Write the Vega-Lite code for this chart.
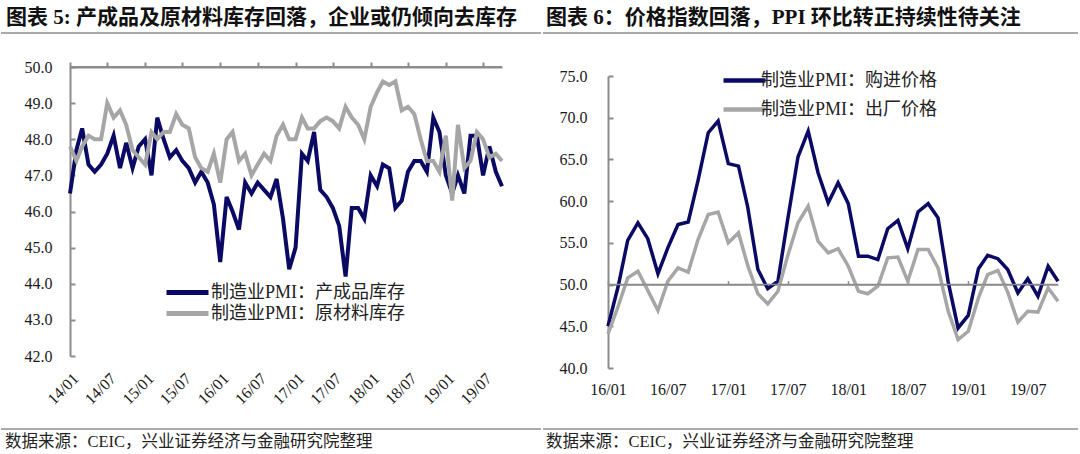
{
  "$schema": "https://vega.github.io/schema/vega-lite/v6.json",
  "padding": {"left": 0, "top": 7, "right": 0, "bottom": 0},
  "background": "white",
  "config": {
    "view": {"stroke": null},
    "axis": {"labelFont": "Liberation Serif", "labelColor": "#1a1a1a", "domainColor": "#8c8c8c", "tickColor": "#8c8c8c", "grid": false}
  },
  "datasets": {
    "inv": [
      {"d":"2014-01-01","制造业PMI：产成品库存":46.5,"制造业PMI：原材料库存":47.8},
      {"d":"2014-02-01","制造业PMI：产成品库存":47.7,"制造业PMI：原材料库存":47.4},
      {"d":"2014-03-01","制造业PMI：产成品库存":48.3,"制造业PMI：原材料库存":47.8},
      {"d":"2014-04-01","制造业PMI：产成品库存":47.3,"制造业PMI：原材料库存":48.1},
      {"d":"2014-05-01","制造业PMI：产成品库存":47.1,"制造业PMI：原材料库存":48.0},
      {"d":"2014-06-01","制造业PMI：产成品库存":47.3,"制造业PMI：原材料库存":48.0},
      {"d":"2014-07-01","制造业PMI：产成品库存":47.6,"制造业PMI：原材料库存":49.0},
      {"d":"2014-08-01","制造业PMI：产成品库存":48.1,"制造业PMI：原材料库存":48.6},
      {"d":"2014-09-01","制造业PMI：产成品库存":47.2,"制造业PMI：原材料库存":48.8},
      {"d":"2014-10-01","制造业PMI：产成品库存":47.9,"制造业PMI：原材料库存":48.4},
      {"d":"2014-11-01","制造业PMI：产成品库存":47.2,"制造业PMI：原材料库存":47.7},
      {"d":"2014-12-01","制造业PMI：产成品库存":47.8,"制造业PMI：原材料库存":47.5},
      {"d":"2015-01-01","制造业PMI：产成品库存":48.0,"制造业PMI：原材料库存":47.3},
      {"d":"2015-02-01","制造业PMI：产成品库存":47.0,"制造业PMI：原材料库存":48.2},
      {"d":"2015-03-01","制造业PMI：产成品库存":48.6,"制造业PMI：原材料库存":48.0},
      {"d":"2015-04-01","制造业PMI：产成品库存":48.0,"制造业PMI：原材料库存":48.2},
      {"d":"2015-05-01","制造业PMI：产成品库存":47.5,"制造业PMI：原材料库存":48.2},
      {"d":"2015-06-01","制造业PMI：产成品库存":47.7,"制造业PMI：原材料库存":48.7},
      {"d":"2015-07-01","制造业PMI：产成品库存":47.4,"制造业PMI：原材料库存":48.4},
      {"d":"2015-08-01","制造业PMI：产成品库存":47.2,"制造业PMI：原材料库存":48.3},
      {"d":"2015-09-01","制造业PMI：产成品库存":46.8,"制造业PMI：原材料库存":47.5},
      {"d":"2015-10-01","制造业PMI：产成品库存":47.1,"制造业PMI：原材料库存":47.2},
      {"d":"2015-11-01","制造业PMI：产成品库存":46.8,"制造业PMI：原材料库存":47.1},
      {"d":"2015-12-01","制造业PMI：产成品库存":46.2,"制造业PMI：原材料库存":47.6},
      {"d":"2016-01-01","制造业PMI：产成品库存":44.6,"制造业PMI：原材料库存":46.8},
      {"d":"2016-02-01","制造业PMI：产成品库存":46.4,"制造业PMI：原材料库存":48.0},
      {"d":"2016-03-01","制造业PMI：产成品库存":46.0,"制造业PMI：原材料库存":48.2},
      {"d":"2016-04-01","制造业PMI：产成品库存":45.5,"制造业PMI：原材料库存":47.4},
      {"d":"2016-05-01","制造业PMI：产成品库存":46.8,"制造业PMI：原材料库存":47.6},
      {"d":"2016-06-01","制造业PMI：产成品库存":46.5,"制造业PMI：原材料库存":47.0},
      {"d":"2016-07-01","制造业PMI：产成品库存":46.8,"制造业PMI：原材料库存":47.3},
      {"d":"2016-08-01","制造业PMI：产成品库存":46.6,"制造业PMI：原材料库存":47.6},
      {"d":"2016-09-01","制造业PMI：产成品库存":46.4,"制造业PMI：原材料库存":47.4},
      {"d":"2016-10-01","制造业PMI：产成品库存":46.9,"制造业PMI：原材料库存":48.1},
      {"d":"2016-11-01","制造业PMI：产成品库存":45.8,"制造业PMI：原材料库存":48.4},
      {"d":"2016-12-01","制造业PMI：产成品库存":44.4,"制造业PMI：原材料库存":48.0},
      {"d":"2017-01-01","制造业PMI：产成品库存":45.0,"制造业PMI：原材料库存":48.0},
      {"d":"2017-02-01","制造业PMI：产成品库存":47.6,"制造业PMI：原材料库存":48.6},
      {"d":"2017-03-01","制造业PMI：产成品库存":47.4,"制造业PMI：原材料库存":48.3},
      {"d":"2017-04-01","制造业PMI：产成品库存":48.2,"制造业PMI：原材料库存":48.3},
      {"d":"2017-05-01","制造业PMI：产成品库存":46.6,"制造业PMI：原材料库存":48.5},
      {"d":"2017-06-01","制造业PMI：产成品库存":46.4,"制造业PMI：原材料库存":48.6},
      {"d":"2017-07-01","制造业PMI：产成品库存":46.1,"制造业PMI：原材料库存":48.5},
      {"d":"2017-08-01","制造业PMI：产成品库存":45.6,"制造业PMI：原材料库存":48.3},
      {"d":"2017-09-01","制造业PMI：产成品库存":44.2,"制造业PMI：原材料库存":48.9},
      {"d":"2017-10-01","制造业PMI：产成品库存":46.1,"制造业PMI：原材料库存":48.6},
      {"d":"2017-11-01","制造业PMI：产成品库存":46.1,"制造业PMI：原材料库存":48.4},
      {"d":"2017-12-01","制造业PMI：产成品库存":45.8,"制造业PMI：原材料库存":48.0},
      {"d":"2018-01-01","制造业PMI：产成品库存":47.0,"制造业PMI：原材料库存":48.9},
      {"d":"2018-02-01","制造业PMI：产成品库存":46.7,"制造业PMI：原材料库存":49.3},
      {"d":"2018-03-01","制造业PMI：产成品库存":47.3,"制造业PMI：原材料库存":49.6},
      {"d":"2018-04-01","制造业PMI：产成品库存":47.2,"制造业PMI：原材料库存":49.5},
      {"d":"2018-05-01","制造业PMI：产成品库存":46.1,"制造业PMI：原材料库存":49.6},
      {"d":"2018-06-01","制造业PMI：产成品库存":46.3,"制造业PMI：原材料库存":48.8},
      {"d":"2018-07-01","制造业PMI：产成品库存":47.1,"制造业PMI：原材料库存":48.9},
      {"d":"2018-08-01","制造业PMI：产成品库存":47.4,"制造业PMI：原材料库存":48.7},
      {"d":"2018-09-01","制造业PMI：产成品库存":47.4,"制造业PMI：原材料库存":48.0},
      {"d":"2018-10-01","制造业PMI：产成品库存":47.1,"制造业PMI：原材料库存":47.4},
      {"d":"2018-11-01","制造业PMI：产成品库存":48.6,"制造业PMI：原材料库存":47.4},
      {"d":"2018-12-01","制造业PMI：产成品库存":48.2,"制造业PMI：原材料库存":47.1},
      {"d":"2019-01-01","制造业PMI：产成品库存":47.0,"制造业PMI：原材料库存":48.1},
      {"d":"2019-02-01","制造业PMI：产成品库存":46.5,"制造业PMI：原材料库存":46.3},
      {"d":"2019-03-01","制造业PMI：产成品库存":47.0,"制造业PMI：原材料库存":48.4},
      {"d":"2019-04-01","制造业PMI：产成品库存":46.5,"制造业PMI：原材料库存":47.2},
      {"d":"2019-05-01","制造业PMI：产成品库存":48.1,"制造业PMI：原材料库存":47.4},
      {"d":"2019-06-01","制造业PMI：产成品库存":48.1,"制造业PMI：原材料库存":48.2},
      {"d":"2019-07-01","制造业PMI：产成品库存":47.0,"制造业PMI：原材料库存":48.0},
      {"d":"2019-08-01","制造业PMI：产成品库存":47.8,"制造业PMI：原材料库存":47.5},
      {"d":"2019-09-01","制造业PMI：产成品库存":47.1,"制造业PMI：原材料库存":47.6},
      {"d":"2019-10-01","制造业PMI：产成品库存":46.7,"制造业PMI：原材料库存":47.4}
    ],
    "price": [
      {"d":"2016-01-01","制造业PMI：购进价格":45.0,"制造业PMI：出厂价格":44.1},
      {"d":"2016-02-01","制造业PMI：购进价格":49.8,"制造业PMI：出厂价格":47.4},
      {"d":"2016-03-01","制造业PMI：购进价格":55.3,"制造业PMI：出厂价格":50.8},
      {"d":"2016-04-01","制造业PMI：购进价格":57.4,"制造业PMI：出厂价格":51.6},
      {"d":"2016-05-01","制造业PMI：购进价格":55.5,"制造业PMI：出厂价格":49.3},
      {"d":"2016-06-01","制造业PMI：购进价格":51.3,"制造业PMI：出厂价格":46.9},
      {"d":"2016-07-01","制造业PMI：购进价格":54.4,"制造业PMI：出厂价格":50.4},
      {"d":"2016-08-01","制造业PMI：购进价格":57.2,"制造业PMI：出厂价格":52.0},
      {"d":"2016-09-01","制造业PMI：购进价格":57.5,"制造业PMI：出厂价格":51.5},
      {"d":"2016-10-01","制造业PMI：购进价格":62.5,"制造业PMI：出厂价格":55.4},
      {"d":"2016-11-01","制造业PMI：购进价格":68.2,"制造业PMI：出厂价格":58.4},
      {"d":"2016-12-01","制造业PMI：购进价格":69.6,"制造业PMI：出厂价格":58.7},
      {"d":"2017-01-01","制造业PMI：购进价格":64.5,"制造业PMI：出厂价格":55.0},
      {"d":"2017-02-01","制造业PMI：购进价格":64.2,"制造业PMI：出厂价格":56.2},
      {"d":"2017-03-01","制造业PMI：购进价格":59.3,"制造业PMI：出厂价格":52.3},
      {"d":"2017-04-01","制造业PMI：购进价格":51.8,"制造业PMI：出厂价格":48.9},
      {"d":"2017-05-01","制造业PMI：购进价格":49.5,"制造业PMI：出厂价格":47.7},
      {"d":"2017-06-01","制造业PMI：购进价格":50.4,"制造业PMI：出厂价格":49.2},
      {"d":"2017-07-01","制造业PMI：购进价格":57.9,"制造业PMI：出厂价格":53.5},
      {"d":"2017-08-01","制造业PMI：购进价格":65.3,"制造业PMI：出厂价格":57.4},
      {"d":"2017-09-01","制造业PMI：购进价格":68.4,"制造业PMI：出厂价格":59.4},
      {"d":"2017-10-01","制造业PMI：购进价格":63.4,"制造业PMI：出厂价格":55.2},
      {"d":"2017-11-01","制造业PMI：购进价格":59.8,"制造业PMI：出厂价格":53.8},
      {"d":"2017-12-01","制造业PMI：购进价格":62.2,"制造业PMI：出厂价格":54.3},
      {"d":"2018-01-01","制造业PMI：购进价格":59.7,"制造业PMI：出厂价格":52.2},
      {"d":"2018-02-01","制造业PMI：购进价格":53.4,"制造业PMI：出厂价格":49.2},
      {"d":"2018-03-01","制造业PMI：购进价格":53.4,"制造业PMI：出厂价格":48.9},
      {"d":"2018-04-01","制造业PMI：购进价格":53.0,"制造业PMI：出厂价格":49.8},
      {"d":"2018-05-01","制造业PMI：购进价格":56.7,"制造业PMI：出厂价格":53.2},
      {"d":"2018-06-01","制造业PMI：购进价格":57.7,"制造业PMI：出厂价格":53.3},
      {"d":"2018-07-01","制造业PMI：购进价格":54.3,"制造业PMI：出厂价格":50.4},
      {"d":"2018-08-01","制造业PMI：购进价格":58.7,"制造业PMI：出厂价格":54.2},
      {"d":"2018-09-01","制造业PMI：购进价格":59.7,"制造业PMI：出厂价格":54.2},
      {"d":"2018-10-01","制造业PMI：购进价格":58.0,"制造业PMI：出厂价格":52.0},
      {"d":"2018-11-01","制造业PMI：购进价格":50.3,"制造业PMI：出厂价格":46.8},
      {"d":"2018-12-01","制造业PMI：购进价格":44.8,"制造业PMI：出厂价格":43.4},
      {"d":"2019-01-01","制造业PMI：购进价格":46.3,"制造业PMI：出厂价格":44.4},
      {"d":"2019-02-01","制造业PMI：购进价格":51.9,"制造业PMI：出厂价格":48.4},
      {"d":"2019-03-01","制造业PMI：购进价格":53.5,"制造业PMI：出厂价格":51.2},
      {"d":"2019-04-01","制造业PMI：购进价格":53.1,"制造业PMI：出厂价格":51.7},
      {"d":"2019-05-01","制造业PMI：购进价格":51.8,"制造业PMI：出厂价格":49.1},
      {"d":"2019-06-01","制造业PMI：购进价格":49.0,"制造业PMI：出厂价格":45.5},
      {"d":"2019-07-01","制造业PMI：购进价格":50.7,"制造业PMI：出厂价格":46.8},
      {"d":"2019-08-01","制造业PMI：购进价格":48.6,"制造业PMI：出厂价格":46.7},
      {"d":"2019-09-01","制造业PMI：购进价格":52.2,"制造业PMI：出厂价格":49.6},
      {"d":"2019-10-01","制造业PMI：购进价格":50.4,"制造业PMI：出厂价格":48.0}
    ]
  },
  "hconcat": [
    {
      "vconcat": [
        {
          "width": 540, "height": 1,
          "data": {"values": [{}]},
          "title": {"text": "图表 5: 产成品及原材料库存回落，企业或仍倾向去库存", "anchor": "start", "frame": "group", "dx": 5, "offset": 4, "fontSize": 21, "fontWeight": "bold", "font": "Liberation Serif, Noto Sans CJK SC", "color": "#111111"},
          "mark": {"type": "rule", "color": "#555555", "strokeWidth": 1},
          "encoding": {"y": {"datum": 0, "type": "quantitative", "scale": {"domain": [0, 1]}, "axis": null}}
        },
        {
          "width": 501, "height": 289,
          "data": {"name": "inv"},
          "transform": [{"fold": ["制造业PMI：产成品库存", "制造业PMI：原材料库存"], "as": ["s", "v"]}],
          "layer": [
            {
              "mark": {"type": "line", "strokeWidth": 4},
              "encoding": {
                "x": {"field": "d", "type": "temporal",
                  "scale": {"type": "utc", "range": [69, 501], "domain": [{"year": 2014, "month": 1, "date": 1, "utc": true}, {"year": 2019, "month": 10, "date": 1, "utc": true}]},
                  "axis": {"orient": "bottom", "title": null, "format": "%y/%m", "labelAngle": -45, "domain": false, "ticks": false, "labelPadding": 14, "labelFlush": false, "labelOverlap": false, "labelFontSize": 16, "minExtent": 72, "maxExtent": 200,
                    "values": [{"year":2014,"month":1,"date":1,"utc":true},{"year":2014,"month":7,"date":1,"utc":true},{"year":2015,"month":1,"date":1,"utc":true},{"year":2015,"month":7,"date":1,"utc":true},{"year":2016,"month":1,"date":1,"utc":true},{"year":2016,"month":7,"date":1,"utc":true},{"year":2017,"month":1,"date":1,"utc":true},{"year":2017,"month":7,"date":1,"utc":true},{"year":2018,"month":1,"date":1,"utc":true},{"year":2018,"month":7,"date":1,"utc":true},{"year":2019,"month":1,"date":1,"utc":true},{"year":2019,"month":7,"date":1,"utc":true}]}},
                "y": {"field": "v", "type": "quantitative", "scale": {"domain": [42, 50], "nice": false, "zero": false},
                  "axis": {"title": null, "offset": -69, "values": [42, 43, 44, 45, 46, 47, 48, 49, 50], "format": ".1f", "tickSize": -5, "tickWidth": 2, "domainWidth": 2, "labelPadding": 23, "labelFontSize": 16, "labelOverlap": false}},
                "color": {"field": "s", "type": "nominal",
                  "scale": {"domain": ["制造业PMI：产成品库存", "制造业PMI：原材料库存"], "range": ["#0a0a64", "#a6a6a6"]},
                  "legend": {"title": null, "orient": "none", "legendX": 176, "legendY": 250, "symbolType": "M-2.625,0H2.625", "symbolSize": 256, "symbolStrokeWidth": 5, "labelFontSize": 18, "labelLimit": 0, "labelFont": "Liberation Serif, Noto Sans CJK SC", "labelColor": "#222222", "rowPadding": 0, "labelOffset": 13}}
              }
            },
            {
              "mark": {"type": "rule", "color": "#8c8c8c", "strokeWidth": 2},
              "encoding": {
                "x": {"aggregate": "min", "field": "d", "type": "temporal",
                  "axis": {"orient": "top", "title": null, "labels": false, "ticks": true, "tickSize": 5, "tickWidth": 2, "domain": true, "domainWidth": 2, "minExtent": 33,
                    "values": [{"year":2014,"month":1,"date":1,"utc":true},{"year":2014,"month":7,"date":1,"utc":true},{"year":2015,"month":1,"date":1,"utc":true},{"year":2015,"month":7,"date":1,"utc":true},{"year":2016,"month":1,"date":1,"utc":true},{"year":2016,"month":7,"date":1,"utc":true},{"year":2017,"month":1,"date":1,"utc":true},{"year":2017,"month":7,"date":1,"utc":true},{"year":2018,"month":1,"date":1,"utc":true},{"year":2018,"month":7,"date":1,"utc":true},{"year":2019,"month":1,"date":1,"utc":true},{"year":2019,"month":7,"date":1,"utc":true}]}},
                "x2": {"aggregate": "max", "field": "d"},
                "y": {"datum": 50, "axis": null}
              }
            }
          ],
          "resolve": {"axis": {"x": "independent", "y": "independent"}}
        },
        {
          "width": 540, "height": 1,
          "data": {"values": [{}]},
          "title": {"text": "数据来源：CEIC，兴业证券经济与金融研究院整理", "orient": "bottom", "anchor": "start", "frame": "group", "dx": 4, "offset": 4, "fontSize": 16.5, "fontWeight": "normal", "font": "Liberation Serif, Noto Sans CJK SC", "color": "#222222"},
          "mark": {"type": "rule", "color": "#555555", "strokeWidth": 1},
          "encoding": {"y": {"datum": 1, "type": "quantitative", "scale": {"domain": [0, 1]}, "axis": null}}
        }
      ],
      "spacing": 0
    },
    {
      "vconcat": [
        {
          "width": 535, "height": 1,
          "data": {"values": [{}]},
          "title": {"text": "图表 6：价格指数回落，PPI 环比转正持续性待关注", "anchor": "start", "frame": "group", "dx": 3, "offset": 4, "fontSize": 21, "fontWeight": "bold", "font": "Liberation Serif, Noto Sans CJK SC", "color": "#111111"},
          "mark": {"type": "rule", "color": "#555555", "strokeWidth": 1},
          "encoding": {"y": {"datum": 0, "type": "quantitative", "scale": {"domain": [0, 1]}, "axis": null}}
        },
        {
          "width": 515, "height": 292,
          "data": {"name": "price"},
          "transform": [{"fold": ["制造业PMI：购进价格", "制造业PMI：出厂价格"], "as": ["s", "v"]}],
          "layer": [
            {
              "mark": {"type": "line", "strokeWidth": 3.5},
              "encoding": {
                "x": {"field": "d", "type": "temporal",
                  "scale": {"type": "utc", "range": [65, 515], "domain": [{"year": 2016, "month": 1, "date": 1, "utc": true}, {"year": 2019, "month": 10, "date": 1, "utc": true}]},
                  "axis": {"orient": "bottom", "title": null, "format": "%y/%m", "labelAngle": 0, "domain": false, "ticks": false, "labelPadding": 13, "labelFlush": false, "labelOverlap": false, "labelFontSize": 16, "minExtent": 60,
                    "values": [{"year":2016,"month":1,"date":1,"utc":true},{"year":2016,"month":7,"date":1,"utc":true},{"year":2017,"month":1,"date":1,"utc":true},{"year":2017,"month":7,"date":1,"utc":true},{"year":2018,"month":1,"date":1,"utc":true},{"year":2018,"month":7,"date":1,"utc":true},{"year":2019,"month":1,"date":1,"utc":true},{"year":2019,"month":7,"date":1,"utc":true}]}},
                "y": {"field": "v", "type": "quantitative", "scale": {"domain": [40, 75], "nice": false, "zero": false},
                  "axis": {"title": null, "offset": -65, "values": [40, 45, 50, 55, 60, 65, 70, 75], "format": ".1f", "tickSize": -5, "tickWidth": 2, "domainWidth": 2, "labelPadding": 26, "labelFontSize": 16, "labelOverlap": false}},
                "color": {"field": "s", "type": "nominal",
                  "scale": {"domain": ["制造业PMI：购进价格", "制造业PMI：出厂价格"], "range": ["#0a0a64", "#a6a6a6"]},
                  "legend": {"title": null, "orient": "none", "legendX": 191, "legendY": 38, "symbolType": "M-2.625,0H2.625", "symbolSize": 256, "symbolStrokeWidth": 4.5, "labelFontSize": 18, "labelLimit": 0, "labelFont": "Liberation Serif, Noto Sans CJK SC", "labelColor": "#222222", "rowPadding": 9, "labelOffset": 6}}
              }
            },
            {
              "mark": {"type": "rule", "color": "#8c8c8c", "strokeWidth": 1.5},
              "encoding": {
                "x": {"aggregate": "min", "field": "d", "type": "temporal",
                  "axis": {"orient": "top", "title": null, "labels": false, "ticks": true, "tickSize": 4, "tickWidth": 1.5, "domain": true, "domainWidth": 1.5, "offset": -208.57, "minExtent": 250.57, "maxExtent": 300,
                    "values": [{"year":2016,"month":1,"date":1,"utc":true},{"year":2016,"month":7,"date":1,"utc":true},{"year":2017,"month":1,"date":1,"utc":true},{"year":2017,"month":7,"date":1,"utc":true},{"year":2018,"month":1,"date":1,"utc":true},{"year":2018,"month":7,"date":1,"utc":true},{"year":2019,"month":1,"date":1,"utc":true},{"year":2019,"month":7,"date":1,"utc":true}]}},
                "x2": {"aggregate": "max", "field": "d"},
                "y": {"datum": 50, "axis": null}
              }
            }
          ],
          "resolve": {"axis": {"x": "independent", "y": "independent"}}
        },
        {
          "width": 535, "height": 1,
          "data": {"values": [{}]},
          "title": {"text": "数据来源：CEIC，兴业证券经济与金融研究院整理", "orient": "bottom", "anchor": "start", "frame": "group", "dx": 3, "offset": 4, "fontSize": 16.5, "fontWeight": "normal", "font": "Liberation Serif, Noto Sans CJK SC", "color": "#222222"},
          "mark": {"type": "rule", "color": "#555555", "strokeWidth": 1},
          "encoding": {"y": {"datum": 1, "type": "quantitative", "scale": {"domain": [0, 1]}, "axis": null}}
        }
      ],
      "spacing": 0
    }
  ],
  "spacing": 0,
  "resolve": {"scale": {"color": "independent"}, "legend": {"color": "independent"}}
}
